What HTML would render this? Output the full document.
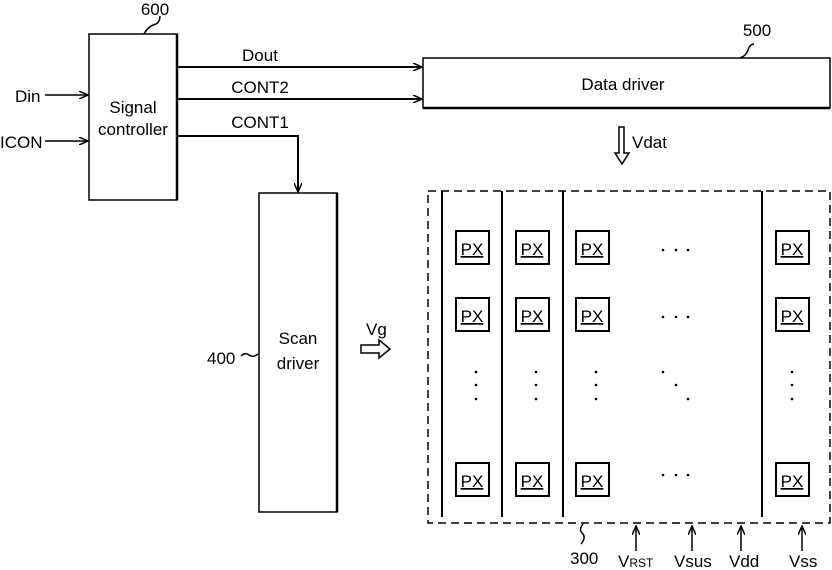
<!DOCTYPE html>
<html><head><style>
body{margin:0;background:#fff;}
svg{display:block;font-family:"Liberation Sans Narrow","Liberation Sans",sans-serif;}
text{font-size:17px;fill:#000;}
</style></head><body>
<svg width="832" height="570" viewBox="0 0 832 570">
<defs>
<marker id="a" markerWidth="10" markerHeight="8" refX="9" refY="4" orient="auto" markerUnits="userSpaceOnUse">
<path d="M0,0 L9,4 L0,8" fill="none" stroke="#000" stroke-width="1.5"/></marker>
</defs>
<g stroke="#000" stroke-width="1.5" fill="none">
<rect x="89" y="34" width="88" height="166"/>
<line x1="177" y1="34" x2="177" y2="200" stroke-width="2.5"/>
<path d="M144,34 q4,-8 12,-10 q4,-2 4,-8"/>
<line x1="45" y1="95" x2="88" y2="95" marker-end="url(#a)"/>
<line x1="45" y1="141" x2="88" y2="141" marker-end="url(#a)"/>
<line x1="178" y1="67" x2="422" y2="67" stroke-width="2" marker-end="url(#a)"/>
<line x1="178" y1="99" x2="422" y2="99" stroke-width="2" marker-end="url(#a)"/>
<polyline points="178,136 298,136 298,192" stroke-width="2" marker-end="url(#a)"/>
<rect x="423" y="58" width="407" height="50"/>
<line x1="423" y1="108" x2="830" y2="108" stroke-width="2.5"/>
<path d="M740,58 q6,-2 8,-8 q2,-6 6,-6"/>
<rect x="259" y="193" width="78" height="319"/>
<line x1="337" y1="193" x2="337" y2="512" stroke-width="2.5"/>
<path d="M241,356 q4,-4 8,-1 q4,3 9,-1"/>
<path d="M361,345 h18 v-5 l11,9 l-11,9 v-5 h-18 z"/>
<path d="M619,127 h5 v26 h5 l-7,11 l-7,-11 h4 z"/>
<rect x="428" y="191" width="402" height="332" stroke-dasharray="8,5"/>
<line x1="442" y1="191" x2="442" y2="517" stroke-width="2"/>
<line x1="502" y1="191" x2="502" y2="517" stroke-width="2"/>
<line x1="563" y1="191" x2="563" y2="517" stroke-width="2"/>
<line x1="762" y1="191" x2="762" y2="517" stroke-width="2"/>
<path d="M583,524 q-5,6 0,10 q3,4 -2,10"/>
<line x1="636" y1="551" x2="636" y2="526" marker-end="url(#a)"/>
<line x1="692" y1="551" x2="692" y2="526" marker-end="url(#a)"/>
<line x1="741" y1="551" x2="741" y2="526" marker-end="url(#a)"/>
<line x1="802" y1="551" x2="802" y2="526" marker-end="url(#a)"/>
</g>
<g stroke="#000" stroke-width="2" fill="none">
<rect x="456" y="231" width="33" height="33"/><rect x="516" y="231" width="33" height="33"/><rect x="576" y="231" width="33" height="33"/><rect x="776" y="231" width="33" height="33"/>
<rect x="456" y="298" width="33" height="33"/><rect x="516" y="298" width="33" height="33"/><rect x="576" y="298" width="33" height="33"/><rect x="776" y="298" width="33" height="33"/>
<rect x="456" y="463" width="33" height="33"/><rect x="516" y="463" width="33" height="33"/><rect x="576" y="463" width="33" height="33"/><rect x="776" y="463" width="33" height="33"/>
</g>
<g text-anchor="middle" text-decoration="underline">
<text x="472" y="255" font-size="18">PX</text><text x="532" y="255" font-size="18">PX</text><text x="592" y="255" font-size="18">PX</text><text x="792" y="255" font-size="18">PX</text>
<text x="472" y="322" font-size="18">PX</text><text x="532" y="322" font-size="18">PX</text><text x="592" y="322" font-size="18">PX</text><text x="792" y="322" font-size="18">PX</text>
<text x="472" y="487" font-size="18">PX</text><text x="532" y="487" font-size="18">PX</text><text x="592" y="487" font-size="18">PX</text><text x="792" y="487" font-size="18">PX</text>
</g>
<g fill="#000">
<circle cx="663" cy="250" r="1.3"/><circle cx="676" cy="250" r="1.3"/><circle cx="688" cy="250" r="1.3"/>
<circle cx="663" cy="317" r="1.3"/><circle cx="676" cy="317" r="1.3"/><circle cx="688" cy="317" r="1.3"/>
<circle cx="663" cy="475" r="1.3"/><circle cx="676" cy="475" r="1.3"/><circle cx="688" cy="475" r="1.3"/>
<circle cx="663" cy="372" r="1.3"/><circle cx="676" cy="385" r="1.3"/><circle cx="688" cy="399" r="1.3"/>
<circle cx="476" cy="372" r="1.3"/><circle cx="476" cy="385" r="1.3"/><circle cx="476" cy="399" r="1.3"/>
<circle cx="536" cy="372" r="1.3"/><circle cx="536" cy="385" r="1.3"/><circle cx="536" cy="399" r="1.3"/>
<circle cx="596" cy="372" r="1.3"/><circle cx="596" cy="385" r="1.3"/><circle cx="596" cy="399" r="1.3"/>
<circle cx="792" cy="372" r="1.3"/><circle cx="792" cy="385" r="1.3"/><circle cx="792" cy="399" r="1.3"/>
</g>
<text x="155" y="15" text-anchor="middle">600</text>
<text x="15" y="102">Din</text>
<text x="0" y="148">ICON</text>
<text x="133" y="113" text-anchor="middle">Signal</text>
<text x="133" y="135" text-anchor="middle">controller</text>
<text x="260" y="61" text-anchor="middle">Dout</text>
<text x="260" y="93" text-anchor="middle">CONT2</text>
<text x="260" y="128" text-anchor="middle">CONT1</text>
<text x="757" y="36" text-anchor="middle">500</text>
<text x="623" y="90" text-anchor="middle">Data driver</text>
<text x="632" y="148">Vdat</text>
<text x="366" y="335">Vg</text>
<text x="298" y="344" text-anchor="middle">Scan</text>
<text x="298" y="369" text-anchor="middle">driver</text>
<text x="207" y="364">400</text>
<text x="570" y="564">300</text>
<text x="618" y="567">V<tspan font-size="12">RST</tspan></text>
<text x="674" y="567">Vsus</text>
<text x="729" y="567">Vdd</text>
<text x="789" y="567">Vss</text>
</svg>
</body></html>
